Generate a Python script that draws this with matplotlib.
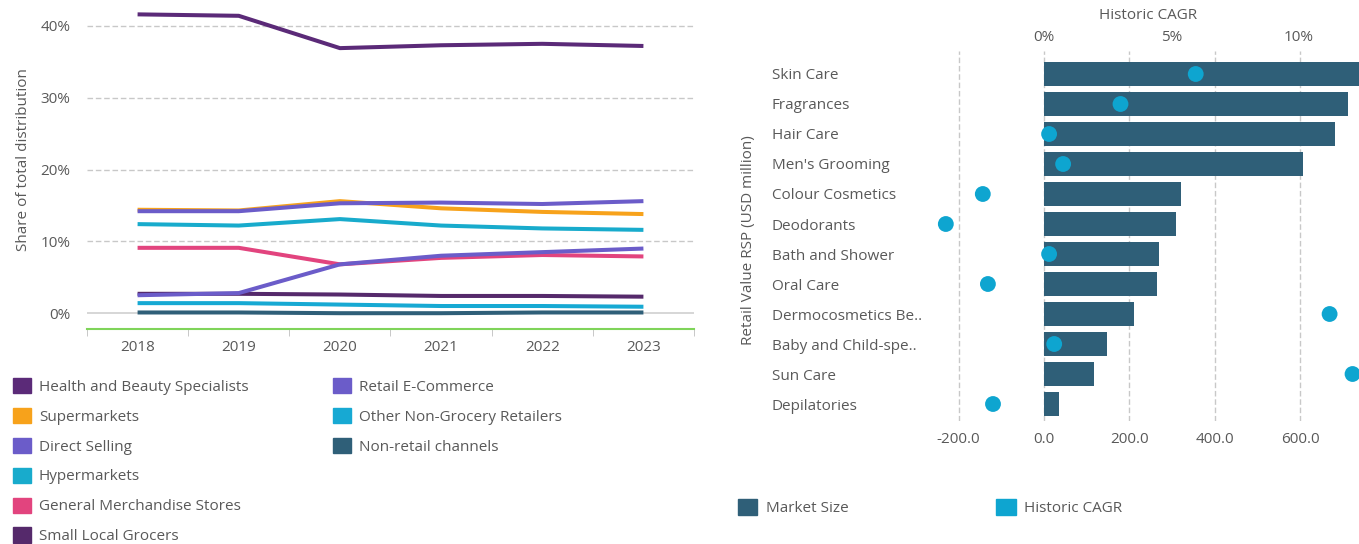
import numpy as np
import matplotlib.pyplot as plt
from matplotlib.patches import Patch

plt.rcParams['font.family'] = ['Open Sans', 'DejaVu Sans']
plt.rcParams['text.color'] = '#595959'
plt.rcParams['axes.labelcolor'] = '#595959'
plt.rcParams['xtick.color'] = '#595959'
plt.rcParams['ytick.color'] = '#595959'

# Distribution channel shares (%)
years = ['2018', '2019', '2020', '2021', '2022', '2023']
health_beauty = [41.6, 41.4, 36.9, 37.3, 37.5, 37.2]
supermarkets = [14.4, 14.3, 15.6, 14.6, 14.1, 13.8]
direct_selling = [14.2, 14.2, 15.3, 15.4, 15.2, 15.6]
hypermarkets = [12.4, 12.2, 13.1, 12.2, 11.8, 11.6]
general_merch = [9.1, 9.1, 6.8, 7.7, 8.1, 7.9]
ecommerce = [2.5, 2.8, 6.8, 8.0, 8.5, 9.0]
small_grocers = [2.7, 2.7, 2.6, 2.4, 2.4, 2.3]
other_non_grocery = [1.4, 1.4, 1.2, 1.0, 1.0, 0.9]
non_retail = [0.1, 0.1, 0.0, 0.0, 0.1, 0.1]

# Categories: market size (USD million) and historic CAGR (%)
categories = ['Skin Care', 'Fragrances', 'Hair Care', "Men's Grooming",
              'Colour Cosmetics', 'Deodorants', 'Bath and Shower', 'Oral Care',
              'Dermocosmetics Be..', 'Baby and Child-spe..', 'Sun Care',
              'Depilatories']
market_size = [770, 712, 681, 607, 320, 310, 270, 264, 210, 148, 117, 36]
cagr = [5.95, 3.0, 0.2, 0.75, -2.4, -3.85, 0.2, -2.2, 11.2, 0.4, 12.1, -2.0]

series = [
    ('Health and Beauty Specialists', health_beauty, '#5b2a78'),
    ('Supermarkets', supermarkets, '#f7a21b'),
    ('Direct Selling', direct_selling, '#6b5cc9'),
    ('Hypermarkets', hypermarkets, '#18abcc'),
    ('General Merchandise Stores', general_merch, '#e2447e'),
    ('Small Local Grocers', small_grocers, '#55296b'),
    ('Retail E-Commerce', ecommerce, '#6b5cc9'),
    ('Other Non-Grocery Retailers', other_non_grocery, '#17a9d3'),
    ('Non-retail channels', non_retail, '#2f5f78'),
]

FS = 11
W, H = 1359, 544
fig = plt.figure(figsize=(W / 100, H / 100), dpi=100)


def box(l, t, r, b):
    return [l / W, 1 - b / H, (r - l) / W, (b - t) / H]


# ---- line chart ----
ax = fig.add_axes(box(87, 0, 694, 329))
x = np.arange(len(years))
for name, vals, col in series:
    ax.plot(x, vals, color=col, lw=2.9, solid_capstyle='butt')

ax.set_xlim(-0.5, 5.5)
ax.set_ylim(-2.2, 43.6)
ax.set_yticks([0, 10, 20, 30, 40])
ax.set_yticklabels(['0%', '10%', '20%', '30%', '40%'], fontsize=FS)
for v in [10, 20, 30, 40]:
    ax.axhline(v, color='#c8c8c8', lw=1, ls=(0, (4, 2)), zorder=0)
ax.axhline(0, color='#d0d0d0', lw=1.2, zorder=0)
ax.set_xticks(x)
ax.set_xticklabels(years, fontsize=FS)
ax.set_xticks(np.arange(-0.5, 6, 1), minor=True)
ax.tick_params(axis='x', which='major', length=0, pad=8)
ax.tick_params(axis='x', which='minor', length=5, color='#bfbfbf')
ax.tick_params(axis='y', length=0, pad=12)
for s in ['top', 'right', 'left']:
    ax.spines[s].set_visible(False)
ax.spines['bottom'].set_color('#7fd45a')
ax.spines['bottom'].set_linewidth(1.5)
ax.set_ylabel('Share of total distribution', fontsize=FS)
ax.yaxis.set_label_coords((31 - 87) / 607, (329 - 160) / 329)

handles = [Patch(color=c, label=n) for n, _, c in series]
leg_kw = dict(frameon=False, fontsize=FS, handlelength=1.15, handleheight=1.15,
              labelspacing=0.86, handletextpad=0.55, borderaxespad=0,
              borderpad=0)
fig.legend(handles=handles[:6], loc='upper left',
           bbox_to_anchor=(13 / W, 1 - 378 / H), **leg_kw)
fig.legend(handles=handles[6:], loc='upper left',
           bbox_to_anchor=(333 / W, 1 - 378 / H), **leg_kw)

# ---- bar chart ----
bx = fig.add_axes(box(933, 51.5, 1359, 420.5))
y = np.arange(len(categories))
bx.barh(y, market_size, height=0.8, color='#2f5f78', zorder=2)
bx.set_xlim(-260, 737.6)
bx.set_ylim(11.55, -0.75)
bx.set_xticks([-200, 0, 200, 400, 600])
bx.set_xticklabels(['%.1f' % v for v in [-200, 0, 200, 400, 600]], fontsize=FS)
bx.grid(axis='x', color='#c8c8c8', ls=(0, (4, 2)), lw=1)
bx.set_axisbelow(True)
bx.set_yticks(y)
bx.set_yticklabels(categories, fontsize=FS, ha='left')
bx.tick_params(axis='y', length=0, pad=116)
bx.tick_params(axis='x', length=0, pad=8)
for s in bx.spines.values():
    s.set_visible(False)
bx.set_ylabel('Retail Value RSP (USD million)', fontsize=FS)
bx.yaxis.set_label_coords((756 - 933) / 426, 0.49)

tx = bx.twiny()
tx.set_xlim(-111 / 25.5, 315 / 25.5)
tx.scatter(cagr, y, s=130, color='#0ea5d0', zorder=3, edgecolors='none')
tx.set_xticks([0, 5, 10])
tx.set_xticklabels(['0%', '5%', '10%'], fontsize=FS)
tx.tick_params(axis='x', length=0, pad=5)
for s in tx.spines.values():
    s.set_visible(False)
tx.set_xlabel('Historic CAGR', fontsize=FS)
tx.xaxis.set_label_coords((1148 - 933) / 426, 1 + (51.5 - 19) / 369)

rh = [Patch(color='#2f5f78', label='Market Size'),
      Patch(color='#0ea5d0', label='Historic CAGR')]
fig.legend(handles=rh, loc='upper left', ncol=2, columnspacing=9.7,
           bbox_to_anchor=(738 / W, 1 - 499 / H), frameon=False, fontsize=FS,
           handlelength=1.25, handleheight=1.25, handletextpad=0.55,
           borderaxespad=0, borderpad=0)

fig.savefig('out.png', dpi=100)
